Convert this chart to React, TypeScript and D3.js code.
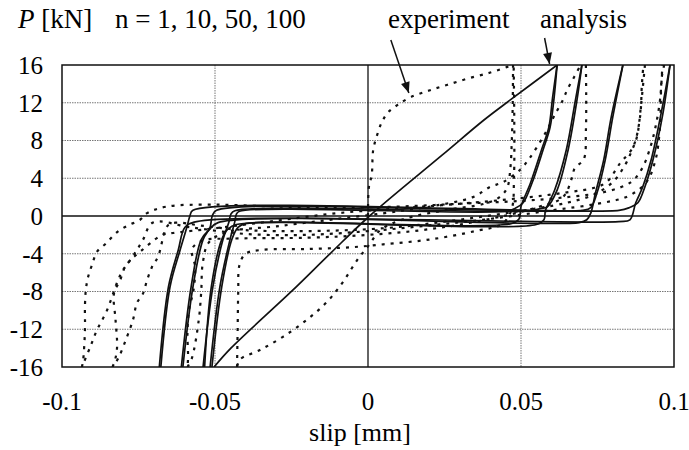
import React, { useRef, useEffect } from "react";
import * as d3 from "d3";

type Pt = [number, number];

// axis ticks
const xTicks = [-0.1, -0.05, 0, 0.05, 0.1];
const xTickLabels = ["-0.1", "-0.05", "0", "0.05", "0.1"];
const yTicks = [16, 12, 8, 4, 0, -4, -8, -12, -16];

// experiment (dashed): [slip mm, P kN]
const expInitial: Pt[] = [[0, 0], [0.0003, 3.1], [0.0012, 4.3], [0.0017, 7], [0.003, 8.6], [0.0046, 10], [0.0066, 11], [0.0098, 11.8], [0.014, 12.6], [0.02, 13.3], [0.026, 13.9], [0.033, 14.6], [0.04, 15.2], [0.0455, 15.8], [0.047, 16]];
const exp1Down: Pt[] = [[0.0474, 16], [0.0473, 12], [0.047, 8], [0.0465, 5], [0.0455, 3], [0.043, 2], [0.038, 1.3], [0.025, 0.6], [0.012, -0.3], [0.004, -1.5], [0.0005, -3.0], [-0.0036, -4.7], [-0.0082, -7], [-0.0134, -9.1], [-0.02, -11], [-0.0278, -12.8], [-0.0353, -14.2], [-0.0418, -15.2], [-0.0428, -16]];
const exp1Up: Pt[] = [[-0.0428, -16], [-0.0426, -12], [-0.0424, -8], [-0.042, -5.2], [-0.04, -4], [-0.035, -3.6], [-0.02, -3.5], [-0.005, -3.3], [0.005, -3.0], [0.02, -2.5], [0.035, -1.6], [0.044, -0.8], [0.047, 0.8], [0.0477, 4], [0.0478, 10], [0.0476, 16]];
const exp2Up: Pt[] = [[-0.059, -16], [-0.0575, -15], [-0.0553, -11], [-0.0545, -8], [-0.054, -5], [-0.052, -2.8], [-0.046, -1.7], [-0.03, -1.1], [-0.01, -0.3], [0.01, 0.5], [0.022, 1.1], [0.0343, 2], [0.04, 3.1], [0.0442, 3.6], [0.0497, 4.9], [0.0523, 5.9], [0.0552, 7.3], [0.0585, 9.1], [0.061, 10.7], [0.0637, 12.3], [0.065, 13.3], [0.0675, 14.8], [0.0695, 16]];
const exp2Down: Pt[] = [[0.0712, 16], [0.0713, 13], [0.0712, 9], [0.0705, 6], [0.0676, 5.1], [0.0667, 4.1], [0.0637, 2], [0.055, 0.9], [0.04, -0.3], [0.02, -1.4], [0, -2.0], [-0.02, -2.3], [-0.045, -2.4], [-0.054, -2.6], [-0.0575, -3.5], [-0.0565, -5.4], [-0.057, -7.8], [-0.0585, -10], [-0.059, -12.4], [-0.0588, -15], [-0.059, -16]];
const exp3Up: Pt[] = [[-0.0835, -16], [-0.0827, -15.3], [-0.082, -13.9], [-0.0825, -11], [-0.083, -8.2], [-0.081, -6.8], [-0.0794, -5.4], [-0.0771, -4.5], [-0.0745, -3.8], [-0.0712, -2.9], [-0.0673, -2], [-0.0637, -1.8], [-0.05, -1.3], [-0.03, -0.5], [-0.01, 0.3], [0.01, 0.8], [0.03, 1.3], [0.05, 1.9], [0.065, 2.5], [0.074, 3], [0.078, 3.6], [0.0824, 5.6], [0.0866, 7.3], [0.0889, 10.5], [0.0895, 13.9], [0.09, 16]];
const exp3Down: Pt[] = [[0.0905, 16], [0.0893, 12], [0.0879, 8.4], [0.0863, 7], [0.084, 5.4], [0.08, 3.6], [0.074, 2.3], [0.065, 1.4], [0.045, 0.3], [0.025, -0.6], [0.005, -1.3], [-0.02, -1.6], [-0.04, -1.5], [-0.055, -1.0], [-0.0625, -0.7], [-0.0654, -1], [-0.0686, -4.3], [-0.0706, -5.4], [-0.0722, -6.8], [-0.0735, -8.2], [-0.0755, -9.2], [-0.0768, -11], [-0.079, -13], [-0.0815, -15], [-0.0835, -16]];
const exp4Up: Pt[] = [[-0.0935, -16], [-0.0931, -15.3], [-0.0925, -12.1], [-0.0925, -9.6], [-0.0922, -7.8], [-0.0915, -6.5], [-0.09, -5], [-0.0886, -3.8], [-0.0856, -2.9], [-0.082, -1.7], [-0.0784, -1], [-0.0745, -0.4], [-0.0722, 0.3], [-0.0657, 1], [-0.05, 1.2], [-0.03, 1.0], [-0.01, 0.9], [0.01, 1.0], [0.03, 1.3], [0.05, 1.6], [0.065, 2.0], [0.078, 2.6], [0.086, 3.6], [0.0895, 5], [0.092, 7], [0.094, 9.5], [0.0955, 12.5], [0.0962, 16]];
const exp4Down: Pt[] = [[0.0968, 16], [0.096, 14.7], [0.0954, 9.4], [0.094, 6], [0.091, 3.6], [0.085, 2.1], [0.075, 1.3], [0.06, 0.6], [0.04, -0.3], [0.02, -1.0], [0, -1.6], [-0.02, -2.0], [-0.04, -1.9], [-0.058, -1.2], [-0.0703, -0.7], [-0.0735, -2.5], [-0.0755, -3.6], [-0.0778, -4.7], [-0.08, -5.7], [-0.0817, -6.8], [-0.0853, -10], [-0.0886, -12.1], [-0.0908, -13.9], [-0.0935, -16]];

// analysis (solid)
const anaInitial: Pt[] = [[-0.0503, -16], [-0.0448, -14], [-0.0252, -8.05], [-0.0121, -3.9], [0.0005, 0], [0.0244, 6.5], [0.038, 10.2], [0.0465, 12.3], [0.0618, 16]];
const ana1Up: Pt[] = [[-0.0516, -16], [-0.0484, -7.5], [-0.0451, -2.5], [-0.0436, -0.7], [-0.043, 0.2], [-0.042, 0.5], [0.045, 0.5], [0.048, 0.8], [0.0507, 1.4], [0.0536, 3.5], [0.0572, 7.0], [0.0595, 9.4], [0.0608, 12.5], [0.0618, 16]];
const ana1Down: Pt[] = [[0.0618, 16], [0.0603, 12.5], [0.0591, 9.4], [0.0567, 7.0], [0.0531, 3.5], [0.05, 1.0], [0.0494, -0.3], [0.047, -0.8], [-0.04, -0.8], [-0.0425, -1.2], [-0.0445, -2.5], [-0.0478, -7.5], [-0.051, -16]];
const ana2Up: Pt[] = [[-0.0539, -16], [-0.0507, -7.5], [-0.0474, -2.5], [-0.0455, -0.7], [-0.0448, 0.2], [-0.0435, 0.55], [0.053, 0.55], [0.0565, 0.8], [0.0585, 0.95], [0.0618, 2.75], [0.0654, 7.0], [0.0683, 12.3], [0.0699, 16]];
const ana2Down: Pt[] = [[0.0699, 16], [0.0678, 12.3], [0.0648, 7.0], [0.061, 2.75], [0.058, 0.6], [0.0575, -0.4], [0.055, -0.9], [-0.043, -0.9], [-0.0458, -1.4], [-0.0478, -2.5], [-0.0512, -7.5], [-0.0534, -16]];
const ana3Up: Pt[] = [[-0.0605, -16], [-0.0572, -7.5], [-0.0539, -2.5], [-0.0516, -1.2], [-0.0509, 0], [-0.0495, 0.6], [0.07, 0.6], [0.0728, 0.9], [0.0748, 2.4], [0.0775, 5.9], [0.08, 10.5], [0.0833, 16]];
const ana3Down: Pt[] = [[0.0833, 16], [0.0795, 10.5], [0.077, 5.9], [0.0743, 2.4], [0.0728, 0.3], [0.0715, -0.4], [0.069, -0.7], [-0.049, -0.7], [-0.052, -1.5], [-0.0545, -2.5], [-0.0578, -7.5], [-0.061, -16]];
const ana4Up: Pt[] = [[-0.0677, -16], [-0.0647, -7.5], [-0.0614, -3.6], [-0.0592, -1.2], [-0.0582, 0], [-0.0572, 0.6], [0.082, 0.6], [0.0855, 0.9], [0.0882, 1.4], [0.0905, 3.1], [0.0931, 5.9], [0.0964, 10.9], [0.0987, 16]];
const ana4Down: Pt[] = [[0.0987, 16], [0.0958, 10.9], [0.0925, 5.9], [0.0898, 3.1], [0.0875, 1.4], [0.0856, -0.4], [0.082, -0.6], [-0.056, -0.6], [-0.0598, -1.2], [-0.062, -3.6], [-0.0652, -7.5], [-0.0682, -16]];

const expSeries = [expInitial, exp1Down, exp1Up, exp2Up, exp2Down, exp3Up, exp3Down, exp4Up, exp4Down];
const anaSeries = [anaInitial, ana1Up, ana1Down, ana2Up, ana2Down, ana3Up, ana3Down, ana4Up, ana4Down];

const App = () => {
    const ref = useRef<SVGSVGElement>(null);

    useEffect(() => {
        const svg = d3.select(ref.current);
        svg.selectAll("*").remove();

        const width = 689;
        const height = 450;
        const margin = { top: 65, right: 15, bottom: 83, left: 62 };

        svg.attr("width", width).attr("height", height)
            .attr("font-family", "Liberation Serif, Tinos, DejaVu Serif, serif")
            .style("background", "#fff");

        const x = d3.scaleLinear().domain([-0.1, 0.1]).range([margin.left, width - margin.right]);
        const y = d3.scaleLinear().domain([-16, 16]).range([height - margin.bottom, margin.top]);

        svg.append("defs").append("clipPath").attr("id", "plot-clip")
            .append("rect")
            .attr("x", x(-0.1)).attr("y", y(16))
            .attr("width", x(0.1) - x(-0.1)).attr("height", y(-16) - y(16));

        // grid
        const grid = svg.append("g");
        yTicks.filter(t => Math.abs(t) !== 16 && t !== 0).forEach(t => {
            grid.append("line")
                .attr("x1", x(-0.1)).attr("x2", x(0.1))
                .attr("y1", y(t)).attr("y2", y(t))
                .attr("stroke", "#777").attr("stroke-width", 1)
                .attr("stroke-dasharray", "1.5 1");
        });
        [-0.05, 0.05].forEach(t => {
            grid.append("line")
                .attr("x1", x(t)).attr("x2", x(t))
                .attr("y1", y(16)).attr("y2", y(-16))
                .attr("stroke", "#777").attr("stroke-width", 1)
                .attr("stroke-dasharray", "1.5 1");
        });
        // zero lines
        grid.append("line")
            .attr("x1", x(-0.1)).attr("x2", x(0.1)).attr("y1", y(0)).attr("y2", y(0))
            .attr("stroke", "#111").attr("stroke-width", 1.3);
        grid.append("line")
            .attr("x1", x(0)).attr("x2", x(0)).attr("y1", y(16)).attr("y2", y(-16))
            .attr("stroke", "#111").attr("stroke-width", 1.3);

        const line = d3.line<Pt>()
            .x(d => x(d[0]))
            .y(d => y(d[1]))
            .curve(d3.curveCatmullRom.alpha(0.5));

        const curves = svg.append("g").attr("clip-path", "url(#plot-clip)");

        expSeries.forEach(s => {
            curves.append("path")
                .datum(s)
                .attr("fill", "none")
                .attr("stroke", "#111")
                .attr("stroke-width", 2.2)
                .attr("stroke-dasharray", "3 6")
                .attr("d", line);
        });

        anaSeries.forEach(s => {
            curves.append("path")
                .datum(s)
                .attr("fill", "none")
                .attr("stroke", "#111")
                .attr("stroke-width", 1.7)
                .attr("d", line);
        });

        // frame
        svg.append("rect")
            .attr("x", x(-0.1)).attr("y", y(16))
            .attr("width", x(0.1) - x(-0.1)).attr("height", y(-16) - y(16))
            .attr("fill", "none").attr("stroke", "#111").attr("stroke-width", 1.5);

        // tick labels
        yTicks.forEach(t => {
            svg.append("text")
                .attr("x", 43).attr("y", y(t))
                .attr("dy", "0.35em")
                .attr("text-anchor", "end")
                .attr("font-size", 25)
                .text(String(t));
        });
        xTicks.forEach((t, i) => {
            svg.append("text")
                .attr("x", x(t)).attr("y", y(-16) + 43)
                .attr("text-anchor", "middle")
                .attr("font-size", 25)
                .text(xTickLabels[i]);
        });

        svg.append("text")
            .attr("x", x(0) - 8).attr("y", 441)
            .attr("text-anchor", "middle")
            .attr("font-size", 26)
            .text("slip [mm]");

        // header
        const ylab = svg.append("text")
            .attr("x", 18).attr("y", 28)
            .attr("font-size", 27);
        ylab.append("tspan").attr("font-style", "italic").text("P");
        ylab.append("tspan").text(" [kN]");

        svg.append("text")
            .attr("x", 115).attr("y", 28)
            .attr("font-size", 27)
            .text("n = 1, 10, 50, 100");

        svg.append("text")
            .attr("x", 388).attr("y", 28)
            .attr("font-size", 27)
            .text("experiment");

        svg.append("text")
            .attr("x", 540).attr("y", 28)
            .attr("font-size", 27)
            .text("analysis");

        // arrows
        const arrow = (x1: number, y1: number, x2: number, y2: number) => {
            svg.append("line")
                .attr("x1", x1).attr("y1", y1).attr("x2", x2).attr("y2", y2)
                .attr("stroke", "#111").attr("stroke-width", 1.5);
            const a = Math.atan2(y2 - y1, x2 - x1);
            const len = 11, w = 4.5;
            const p = [
                [x2, y2],
                [x2 - len * Math.cos(a) + w * Math.sin(a), y2 - len * Math.sin(a) - w * Math.cos(a)],
                [x2 - len * Math.cos(a) - w * Math.sin(a), y2 - len * Math.sin(a) + w * Math.cos(a)],
            ];
            svg.append("path")
                .attr("d", `M${p[0]}L${p[1]}L${p[2]}Z`)
                .attr("fill", "#111");
        };
        arrow(x(0.014) - 20, 40, x(0.014) - 2, y(12.6) - 4);
        arrow(x(0.06) - 7, 38, x(0.06) - 2, y(16) - 1);
    }, []);

    return (
        <div>
            <style>{`body{margin:0}`}</style>
            <svg ref={ref}></svg>
        </div>
    );
};

export default App;
